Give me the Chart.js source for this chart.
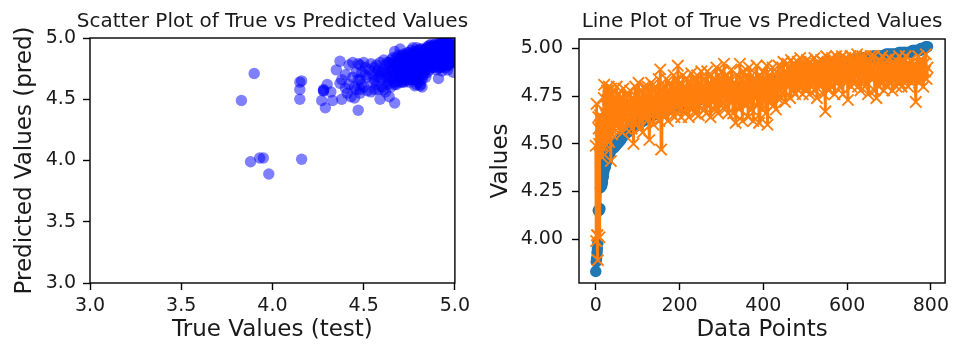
<!DOCTYPE html>
<html>
<head>
<meta charset="utf-8">
<script src="https://cdn.jsdelivr.net/npm/chart.js@4.4.1/dist/chart.umd.min.js"></script>
<style>
  body { margin: 0; background: #fff; overflow: hidden; }
  #wrap { position: relative; width: 955px; height: 347px; overflow: hidden; }
  canvas { position: absolute; top: 0; }
  #scatterChart { left: 0; }
  #lineChart { left: 475px; }
</style>
</head>
<body>
<div id="wrap">
  <canvas id="scatterChart" width="475" height="347"></canvas>
  <canvas id="lineChart" width="480" height="347"></canvas>
</div>
<script>
// ==========================
// Data
// ==========================

// first 40 sorted test points, one per data point index (0..39)
const trueHead = [3.83, 3.88, 3.90, 3.93, 3.95, 3.98, 4.15, 4.15, 4.15, 4.16,
                  4.16, 4.27, 4.28, 4.28, 4.28, 4.29, 4.30, 4.32, 4.33, 4.35,
                  4.37, 4.37, 4.38, 4.38, 4.40, 4.40, 4.41, 4.42, 4.42, 4.43,
                  4.44, 4.44, 4.45, 4.45, 4.46, 4.46, 4.47, 4.47, 4.47, 4.48];
const predHead = [4.49, 3.99, 4.71, 4.02, 4.02, 3.89, 4.64, 4.58, 4.50, 4.01,
                  4.65, 4.49, 4.57, 4.58, 4.57, 4.43, 4.62, 4.56, 4.49, 4.74,
                  4.81, 4.63, 4.50, 4.66, 4.59, 4.70, 4.55, 4.78, 4.62, 4.52,
                  4.68, 4.80, 4.51, 4.60, 4.72, 4.58, 4.41, 4.79, 4.66, 4.55];

// rest of the points, every 2nd index (40, 42, ... 792)
const trueTail = [
  4.48, 4.48, 4.48, 4.49, 4.49, 4.50, 4.50, 4.51, 4.51, 4.52,
  4.52, 4.53, 4.54, 4.54, 4.55, 4.55, 4.56, 4.56, 4.56, 4.57,
  4.57, 4.57, 4.58, 4.58, 4.58, 4.59, 4.59, 4.59, 4.60, 4.60,
  4.60, 4.61, 4.61, 4.61, 4.62, 4.62, 4.62, 4.62, 4.63, 4.63,
  4.63, 4.63, 4.64, 4.64, 4.64, 4.64, 4.65, 4.65, 4.65, 4.65,
  4.66, 4.66, 4.66, 4.66, 4.66, 4.66, 4.67, 4.67, 4.67, 4.67,
  4.67, 4.67, 4.68, 4.68, 4.68, 4.68, 4.68, 4.68, 4.69, 4.69,
  4.69, 4.69, 4.69, 4.69, 4.70, 4.70, 4.70, 4.70, 4.70, 4.70,
  4.70, 4.70, 4.71, 4.71, 4.71, 4.71, 4.71, 4.71, 4.72, 4.72,
  4.72, 4.72, 4.72, 4.72, 4.72, 4.72, 4.73, 4.73, 4.73, 4.73,
  4.73, 4.73, 4.73, 4.73, 4.74, 4.74, 4.74, 4.74, 4.74, 4.74,
  4.74, 4.74, 4.75, 4.75, 4.75, 4.75, 4.75, 4.75, 4.75, 4.75,
  4.76, 4.76, 4.76, 4.76, 4.76, 4.76, 4.76, 4.76, 4.77, 4.77,
  4.77, 4.77, 4.77, 4.77, 4.77, 4.77, 4.77, 4.77, 4.78, 4.78,
  4.78, 4.78, 4.78, 4.78, 4.78, 4.78, 4.78, 4.78, 4.79, 4.79,
  4.79, 4.79, 4.79, 4.79, 4.79, 4.79, 4.79, 4.79, 4.80, 4.80,
  4.80, 4.80, 4.80, 4.80, 4.80, 4.80, 4.80, 4.80, 4.81, 4.81,
  4.81, 4.81, 4.81, 4.81, 4.81, 4.81, 4.81, 4.81, 4.82, 4.82,
  4.82, 4.82, 4.82, 4.82, 4.82, 4.82, 4.83, 4.83, 4.83, 4.83,
  4.83, 4.83, 4.83, 4.83, 4.84, 4.84, 4.84, 4.84, 4.84, 4.84,
  4.84, 4.84, 4.85, 4.85, 4.85, 4.85, 4.85, 4.85, 4.85, 4.85,
  4.86, 4.86, 4.86, 4.86, 4.86, 4.86, 4.86, 4.86, 4.87, 4.87,
  4.87, 4.87, 4.87, 4.87, 4.87, 4.87, 4.88, 4.88, 4.88, 4.88,
  4.88, 4.88, 4.88, 4.88, 4.89, 4.89, 4.89, 4.89, 4.89, 4.89,
  4.89, 4.89, 4.90, 4.90, 4.90, 4.90, 4.90, 4.90, 4.90, 4.90,
  4.90, 4.90, 4.91, 4.91, 4.91, 4.91, 4.91, 4.91, 4.91, 4.91,
  4.91, 4.91, 4.92, 4.92, 4.92, 4.92, 4.92, 4.92, 4.92, 4.92,
  4.92, 4.92, 4.93, 4.93, 4.93, 4.93, 4.93, 4.93, 4.93, 4.93,
  4.93, 4.93, 4.93, 4.93, 4.94, 4.94, 4.94, 4.94, 4.94, 4.94,
  4.94, 4.94, 4.94, 4.94, 4.94, 4.94, 4.94, 4.94, 4.95, 4.95,
  4.95, 4.95, 4.95, 4.95, 4.95, 4.95, 4.95, 4.95, 4.95, 4.95,
  4.96, 4.96, 4.96, 4.96, 4.96, 4.96, 4.96, 4.96, 4.96, 4.96,
  4.96, 4.96, 4.96, 4.96, 4.96, 4.96, 4.97, 4.97, 4.97, 4.97,
  4.97, 4.97, 4.97, 4.97, 4.97, 4.97, 4.97, 4.97, 4.97, 4.97,
  4.97, 4.97, 4.98, 4.98, 4.98, 4.98, 4.98, 4.98, 4.98, 4.98,
  4.98, 4.98, 4.98, 4.98, 4.98, 4.98, 4.98, 4.98, 4.99, 4.99,
  4.99, 4.99, 4.99, 4.99, 4.99, 4.99, 4.99, 4.99, 5.00, 5.00,
  5.00, 5.00, 5.00, 5.00, 5.01, 5.01, 5.01];
const predTail = [
  4.66, 4.78, 4.58, 4.72, 4.62, 4.80, 4.60, 4.70, 4.76, 4.57,
  4.68, 4.74, 4.56, 4.79, 4.64, 4.70, 4.58, 4.76, 4.66, 4.72,
  4.62, 4.78, 4.68, 4.58, 4.74, 4.50, 4.70, 4.80, 4.60, 4.72,
  4.66, 4.82, 4.58, 4.74, 4.68, 4.78, 4.56, 4.72, 4.80, 4.64,
  4.70, 4.62, 4.80, 4.66, 4.52, 4.76, 4.82, 4.68, 4.74, 4.60,
  4.72, 4.80, 4.64, 4.76, 4.70, 4.84, 4.62, 4.89, 4.47, 4.74,
  4.68, 4.80, 4.64, 4.76, 4.84, 4.70, 4.62, 4.78, 4.72, 4.82,
  4.66, 4.80, 4.74, 4.86, 4.64, 4.78, 4.70, 4.84, 4.91, 4.68,
  4.76, 4.82, 4.64, 4.72, 4.86, 4.70, 4.80, 4.66, 4.78, 4.84,
  4.70, 4.64, 4.82, 4.76, 4.87, 4.68, 4.80, 4.72, 4.84, 4.66,
  4.78, 4.86, 4.70, 4.65, 4.82, 4.76, 4.88, 4.72, 4.80, 4.68,
  4.84, 4.74, 4.66, 4.88, 4.78, 4.70, 4.82, 4.64, 4.86, 4.76,
  4.72, 4.84, 4.68, 4.80, 4.90, 4.74, 4.66, 4.86, 4.78, 4.82,
  4.70, 4.88, 4.76, 4.92, 4.68, 4.82, 4.74, 4.86, 4.66, 4.80,
  4.84, 4.72, 4.89, 4.76, 4.66, 4.82, 4.78, 4.61, 4.86, 4.74,
  4.80, 4.68, 4.92, 4.76, 4.84, 4.62, 4.88, 4.72, 4.80, 4.70,
  4.86, 4.76, 4.64, 4.90, 4.72, 4.82, 4.68, 4.86, 4.62, 4.78,
  4.84, 4.74, 4.91, 4.70, 4.80, 4.61, 4.86, 4.76, 4.82, 4.68,
  4.88, 4.74, 4.82, 4.66, 4.91, 4.60, 4.78, 4.86, 4.72, 4.84,
  4.76, 4.90, 4.70, 4.84, 4.80, 4.68, 4.88, 4.74, 4.91, 4.78,
  4.86, 4.74, 4.90, 4.82, 4.93, 4.78, 4.72, 4.88, 4.84, 4.92,
  4.80, 4.90, 4.74, 4.94, 4.84, 4.78, 4.92, 4.86, 4.76, 4.90,
  4.82, 4.93, 4.78, 4.88, 4.95, 4.80, 4.90, 4.76, 4.92, 4.84,
  4.90, 4.78, 4.94, 4.82, 4.92, 4.76, 4.93, 4.84, 4.80, 4.91,
  4.86, 4.95, 4.78, 4.92, 4.74, 4.93, 4.84, 4.90, 4.80, 4.94,
  4.82, 4.93, 4.76, 4.90, 4.67, 4.96, 4.84, 4.92, 4.78, 4.94,
  4.88, 4.80, 4.95, 4.84, 4.93, 4.76, 4.90, 4.96, 4.82, 4.92,
  4.94, 4.80, 4.91, 4.86, 4.96, 4.76, 4.93, 4.84, 4.95, 4.82,
  4.88, 4.73, 4.94, 4.86, 4.96, 4.80, 4.92, 4.84, 4.95, 4.82,
  4.92, 4.86, 4.97, 4.80, 4.90, 4.95, 4.78, 4.88, 4.96, 4.84,
  4.90, 4.80, 4.96, 4.86, 4.93, 4.76, 4.94, 4.88, 4.96, 4.84,
  4.90, 4.84, 4.96, 4.78, 4.88, 4.74, 4.92, 4.86, 4.80, 4.94,
  4.88, 4.82, 4.96, 4.86, 4.78, 4.92, 4.84, 4.94, 4.80, 4.90,
  4.86, 4.95, 4.82, 4.90, 4.78, 4.92, 4.86, 4.84, 4.94, 4.80,
  4.90, 4.86, 4.96, 4.82, 4.92, 4.80, 4.88, 4.94, 4.84, 4.90,
  4.96, 4.84, 4.90, 4.80, 4.92, 4.88, 4.94, 4.82, 4.90, 4.86,
  4.92, 4.84, 4.72, 4.90, 4.86, 4.96, 4.82, 4.92, 4.88, 4.94,
  4.86, 4.80, 4.92, 4.88, 4.97, 4.84, 4.90];

const scatterTicks = [3.0, 3.5, 4.0, 4.5, 5.0];
const lineXTicks = [0, 200, 400, 600, 800];
const lineYTicks = [4.00, 4.25, 4.50, 4.75, 5.00];

// ==========================
// Build point lists
// ==========================

const trueAll = trueHead.concat(trueTail);
const predAll = predHead.concat(predTail);
const indexAll = trueHead.map((v, i) => i).concat(trueTail.map((v, j) => 40 + 2 * j));

const scatterPoints = trueAll.map((t, i) => ({ x: t, y: predAll[i] }));
const truePoints = trueAll.map((t, i) => ({ x: indexAll[i], y: t }));
const predPoints = predAll.map((p, i) => ({ x: indexAll[i], y: p }));

// ==========================
// Shared look
// ==========================

const FONT = "'DejaVu Sans', sans-serif";
const TXT = "#1a1a1a";

// full box round the plot area, like matplotlib spines
const frame = {
    id: "frame",
    afterDatasetsDraw(chart) {
        const a = chart.chartArea;
        const c = chart.ctx;
        c.save();
        c.strokeStyle = "#000";
        c.lineWidth = 1.4;
        c.strokeRect(a.left, a.top, a.right - a.left, a.bottom - a.top);
        c.restore();
    }
};

// title centred over the plot area (it is wider than the axes)
const plotTitle = {
    id: "plotTitle",
    afterDraw(chart, args, opts) {
        const a = chart.chartArea;
        const c = chart.ctx;
        c.save();
        c.font = "20px " + FONT;
        c.fillStyle = TXT;
        c.textAlign = "center";
        c.textBaseline = "alphabetic";
        c.fillText(opts.text, (a.left + a.right) / 2, 27);
        c.restore();
    }
};

function axis(opts) {
    return {
        type: "linear",
        min: opts.min,
        max: opts.max,
        afterFit: opts.fit,
        afterBuildTicks: s => { s.ticks = opts.ticks.map(v => ({ value: v })); },
        border: { display: false },
        grid: {
            display: true,
            drawOnChartArea: false,
            drawTicks: true,
            tickLength: 7,
            tickColor: "#000",
            tickWidth: 1.4
        },
        ticks: {
            color: TXT,
            font: { family: FONT, size: 19 },
            padding: opts.pad,
            maxRotation: 0,
            callback: opts.fmt
        },
        title: {
            display: true,
            text: opts.title,
            color: TXT,
            font: { family: FONT, size: 23 },
            padding: opts.titlePad
        }
    };
}

// ==========================
// Scatter plot
// ==========================

new Chart(document.getElementById("scatterChart"), {
    type: "scatter",
    data: {
        datasets: [{
            data: scatterPoints,
            backgroundColor: "rgba(0,0,255,0.5)",
            borderWidth: 0,
            pointRadius: 5.7,
            clip: 0
        }]
    },
    options: {
        responsive: false,
        animation: false,
        devicePixelRatio: 1,
        layout: { padding: { left: 0, right: 17, top: 38, bottom: 0 } },
        plugins: {
            legend: { display: false },
            tooltip: { enabled: false },
            title: { display: false },
            plotTitle: { text: "Scatter Plot of True vs Predicted Values" }
        },
        scales: {
            x: axis({ min: 3, max: 5, ticks: scatterTicks, pad: 5,
                fmt: v => v.toFixed(1), title: "True Values (test)",
                titlePad: { top: 0, bottom: 3 }, fit: s => { s.height = 64; } }),
            y: axis({ min: 3, max: 5, ticks: scatterTicks, pad: 7,
                fmt: v => v.toFixed(1), title: "Predicted Values (pred)",
                titlePad: { top: 11, bottom: 0 }, fit: s => { s.width = 90; } })
        }
    },
    plugins: [frame, plotTitle]
});

// ==========================
// Line plot
// ==========================

new Chart(document.getElementById("lineChart"), {
    type: "scatter",
    data: {
        datasets: [{
            label: "True",
            data: truePoints,
            showLine: true,
            order: 1,
            borderColor: "#1f77b4",
            borderWidth: 2.8,
            backgroundColor: "#1f77b4",
            pointStyle: "circle",
            pointRadius: 5.7,
            pointBorderWidth: 0
        }, {
            label: "Predicted",
            data: predPoints,
            showLine: true,
            order: 0,
            borderColor: "#ff7f0e",
            borderWidth: 2.8,
            backgroundColor: "#ff7f0e",
            pointStyle: "crossRot",
            pointRadius: 8,
            pointBorderWidth: 1.9
        }]
    },
    options: {
        responsive: false,
        animation: false,
        devicePixelRatio: 1,
        layout: { padding: { left: 0, right: 9, top: 39, bottom: 0 } },
        plugins: {
            legend: { display: false },
            tooltip: { enabled: false },
            title: { display: false },
            plotTitle: { text: "Line Plot of True vs Predicted Values" }
        },
        scales: {
            x: axis({ min: -40, max: 834, ticks: lineXTicks, pad: 5,
                fmt: v => String(v), title: "Data Points",
                titlePad: { top: 0, bottom: 3 }, fit: s => { s.height = 64; } }),
            y: axis({ min: 3.77, max: 5.05, ticks: lineYTicks, pad: 9,
                fmt: v => v.toFixed(2), title: "Values",
                titlePad: { top: 12, bottom: 0 }, fit: s => { s.width = 104; } })
        }
    },
    plugins: [frame, plotTitle]
});
</script>
</body>
</html>
